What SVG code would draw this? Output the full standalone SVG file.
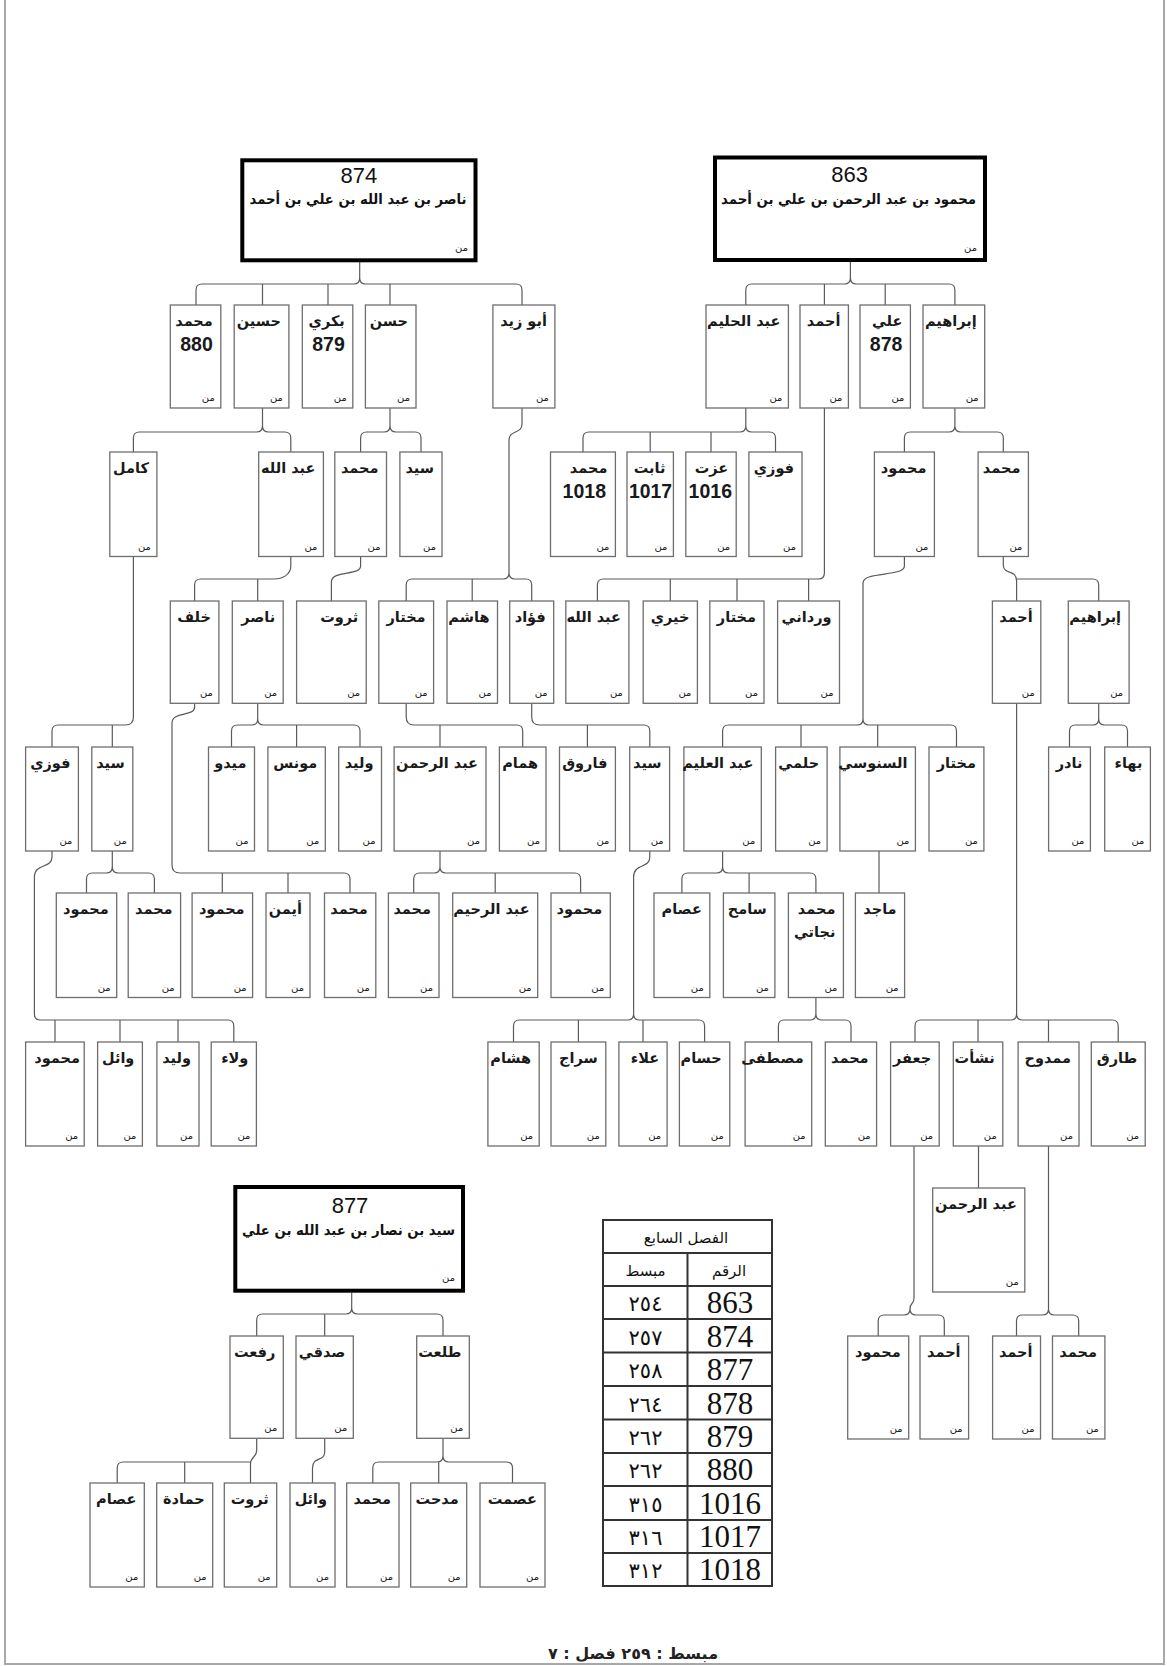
<svg xmlns="http://www.w3.org/2000/svg" width="1167" height="1666" viewBox="0 0 1167 1666">
<style>
.bx{fill:#fff;stroke:#6e6e6e;stroke-width:1.3}
.mb{fill:#fff;stroke:#000;stroke-width:4}
.nm{font-family:"DejaVu Sans",sans-serif;font-weight:bold;font-size:14.5px;text-anchor:end;fill:#1a1a1a}
.nu{font-family:"Liberation Sans",Arial,sans-serif;font-weight:bold;font-size:19.5px;text-anchor:end;fill:#1a1a1a}
.mn{font-family:"DejaVu Sans",sans-serif;font-size:10px;text-anchor:end;fill:#222}
.hn{font-family:"Liberation Sans",Arial,sans-serif;font-size:22px;text-anchor:middle;fill:#111}
.ht{font-family:"DejaVu Sans",sans-serif;font-weight:bold;font-size:14px;text-anchor:middle;fill:#111}
.cn{fill:none;stroke:#5a5a5a;stroke-width:1.2}
.tl{stroke:#333;stroke-width:2;fill:none}
.tn{font-family:"Liberation Serif","Times New Roman",serif;font-size:31px;text-anchor:middle;fill:#111}
.ta{font-family:"DejaVu Sans",sans-serif;font-size:21px;letter-spacing:3px;text-anchor:middle;fill:#111}
.th{font-family:"DejaVu Sans",sans-serif;font-size:15px;text-anchor:middle;fill:#111}
</style>
<rect x="0" y="0" width="1167" height="1666" fill="#fff"/>
<path d="M5,0 V1664 H1164 V0" fill="none" stroke="#a8a8a8" stroke-width="2"/>

<g id="connectors" class="cn">
<path d="M359.7,262 V278 Q359.7,284 353.7,284 H202 Q196,284 196,290 V305 M359.7,278 Q359.7,284 365.7,284 H516 Q522,284 522,290 V305 M262.5,284 V305 M328,284 V305 M390,284 V305"/>
<path d="M850.4,262 V278 Q850.4,284 844.4,284 H751.8 Q745.8,284 745.8,290 V305 M850.4,278 Q850.4,284 856.4,284 H948.9 Q954.9,284 954.9,290 V305 M824.4,284 V305 M885.2,284 V305"/>
<path d="M262.5,408 V426 Q262.5,432 256.5,432 H139.4 Q133.4,432 133.4,438 V452 M262.5,426 Q262.5,432 268.5,432 H284.8 Q290.8,432 290.8,438 V452"/>
<path d="M390,408 V426 Q390,432 384,432 H366.6 Q360.6,432 360.6,438 V452 M390,426 Q390,432 396,432 H415 Q421,432 421,438 V452"/>
<path d="M522,408 V424 C522,434 509,430 509,440 V573 Q509,579 503,579 H412.2 Q406.2,579 406.2,585 V601 M509,573 Q509,579 515,579 H525.7 Q531.7,579 531.7,585 V601 M472.2,579 V601"/>
<path d="M745.8,408 V426 Q745.8,432 739.8,432 H589 Q583,432 583,438 V452 M745.8,426 Q745.8,432 751.8,432 H769.5 Q775.5,432 775.5,438 V452 M650.2,432 V452 M711,432 V452"/>
<path d="M954.9,408 V426 Q954.9,432 948.9,432 H910.4 Q904.4,432 904.4,438 V452 M954.9,426 Q954.9,432 960.9,432 H997.3 Q1003.3,432 1003.3,438 V452"/>
<path d="M824.4,408 V573 Q824.4,579 818.4,579 H603.4 Q597.4,579 597.4,585 V601 M670.3,579 V601 M737,579 V601 M808.6,579 V601"/>
<path d="M290.8,556.5 V566 C290.8,575 282,579 274,579 H200.6 Q194.6,579 194.6,585 V601 M257.7,579 V601"/>
<path d="M360.6,556.5 V566 C360.6,576 331.4,570 331.4,582 V601"/>
<path d="M904.4,556.5 V566 C904.4,577 863,571 863,583 V719 Q863,725 857,725 H728.6 Q722.6,725 722.6,731 V747 M863,719 Q863,725 869,725 H950.5 Q956.5,725 956.5,731 V747 M801,725 V747 M877.7,725 V747"/>
<path d="M1003.3,556.5 V565 C1003.3,575 1016.6,569 1016.6,581 V601 M1016.6,579 H1092.7 Q1098.7,579 1098.7,585 V601"/>
<path d="M257.7,703.3 V719 Q257.7,725 251.7,725 H237.5 Q231.5,725 231.5,731 V747 M257.7,719 Q257.7,725 263.7,725 H354 Q360,725 360,731 V747 M296.6,725 V747"/>
<path d="M133.4,556.5 V717 Q133.4,725 125.4,725 H58 Q52,725 52,731 V747 M112.3,725 V747"/>
<path d="M194.6,703.3 V707 C194.6,717 172,711 172,723 V865 Q172,873 180,873 H344 Q350,873 350,879 V893 M222.3,873 V893 M288,873 V893"/>
<path d="M406.2,703.3 V717 Q406.2,725 414.2,725 H516.7 Q522.7,725 522.7,731 V747 M440,725 V747"/>
<path d="M531.7,703.3 V717 Q531.7,725 539.7,725 H643.8 Q649.8,725 649.8,731 V747 M587.4,725 V747"/>
<path d="M1098.7,703.3 V719 Q1098.7,725 1092.7,725 H1075.5 Q1069.5,725 1069.5,731 V747 M1098.7,719 Q1098.7,725 1104.7,725 H1121.5 Q1127.5,725 1127.5,731 V747"/>
<path d="M1016.6,703.3 V1014 Q1016.6,1020 1010.6,1020 H921 Q915,1020 915,1026 V1042 M1016.6,1014 Q1016.6,1020 1022.6,1020 H1112.2 Q1118.2,1020 1118.2,1026 V1042 M978,1020 V1042 M1048.5,1020 V1042"/>
<path d="M112.3,851 V867 Q112.3,873 106.3,873 H92.5 Q86.5,873 86.5,879 V893 M112.3,867 Q112.3,873 118.3,873 H148.4 Q154.4,873 154.4,879 V893"/>
<path d="M52,851 V857 C52,869 34.4,863 34.4,877 V1014 Q34.4,1020 40.4,1020 H227.8 Q233.8,1020 233.8,1026 V1042 M55,1020 V1042 M120,1020 V1042 M178,1020 V1042"/>
<path d="M440,851 V867 Q440,873 434,873 H419.7 Q413.7,873 413.7,879 V893 M440,867 Q440,873 446,873 H574.6 Q580.6,873 580.6,879 V893 M495.2,873 V893"/>
<path d="M649.8,851 V857 C649.8,869 633.6,863 633.6,877 V1014 Q633.6,1020 627.6,1020 H519.5 Q513.5,1020 513.5,1026 V1042 M633.6,1014 Q633.6,1020 639.6,1020 H698.6 Q704.6,1020 704.6,1026 V1042 M578.4,1020 V1042 M643,1020 V1042"/>
<path d="M722.6,851 V867 Q722.6,873 716.6,873 H687.9 Q681.9,873 681.9,879 V893 M722.6,867 Q722.6,873 728.6,873 H809.9 Q815.9,873 815.9,879 V893 M749.1,873 V893"/>
<path d="M879,851 V893"/>
<path d="M815.9,997.5 V1014 Q815.9,1020 809.9,1020 H784.4 Q778.4,1020 778.4,1026 V1042 M815.9,1014 Q815.9,1020 821.9,1020 H845 Q851,1020 851,1026 V1042"/>
<path d="M978.5,1146 V1188"/>
<path d="M914,1146 V1298 C914,1305 910,1302 910,1309 Q910,1315 904,1315 H884.2 Q878.2,1315 878.2,1321 V1336 M910,1309 Q910,1315 916,1315 H938.3 Q944.3,1315 944.3,1321 V1336"/>
<path d="M1048.5,1146 V1309 Q1048.5,1315 1042.5,1315 H1022.5 Q1016.5,1315 1016.5,1321 V1336 M1048.5,1309 Q1048.5,1315 1054.5,1315 H1072.7 Q1078.7,1315 1078.7,1321 V1336"/>
<path d="M351.7,1292.7 V1308 Q351.7,1314 345.7,1314 H262.7 Q256.7,1314 256.7,1320 V1336 M351.7,1308 Q351.7,1314 357.7,1314 H437 Q443,1314 443,1320 V1336 M324.7,1314 V1336"/>
<path d="M256.7,1438.3 V1450 C256.7,1458 250.5,1456 250.5,1464 V1483 M250.5,1462 H123.2 Q117.2,1462 117.2,1468 V1483 M184.7,1462 V1483"/>
<path d="M324.7,1438.3 V1452 C324.7,1462 312.5,1456 312.5,1468 V1483"/>
<path d="M443,1438.3 V1456 Q443,1462 437,1462 H378.8 Q372.8,1462 372.8,1468 V1483 M443,1456 Q443,1462 449,1462 H506.5 Q512.5,1462 512.5,1468 V1483 M438.7,1462 V1483"/>
</g>

<g id="n874"><rect class="mb" x="242.3" y="160.3" width="233.2" height="100"/><text class="hn" x="358.9" y="182.7">874</text><text class="ht" x="358" y="204" textLength="217" lengthAdjust="spacingAndGlyphs">ناصر بن عبد الله بن علي بن أحمد</text><text class="mn" x="468" y="251">من</text></g>
<g id="n863"><rect class="mb" x="715" y="157.5" width="270" height="102.5"/><text class="hn" x="849.6" y="182">863</text><text class="ht" x="848.5" y="204" textLength="255" lengthAdjust="spacingAndGlyphs">محمود بن عبد الرحمن بن علي بن أحمد</text><text class="mn" x="977" y="251">من</text></g>
<g id="n877"><rect class="mb" x="235.3" y="1187" width="227.7" height="103.7"/><text class="hn" x="350" y="1212.7">877</text><text class="ht" x="348.5" y="1235" textLength="213" lengthAdjust="spacingAndGlyphs">سيد بن نصار بن عبد الله بن علي</text><text class="mn" x="455" y="1281">من</text></g>

<g id="b_m880"><rect class="bx" x="170.3" y="305" width="50.5" height="103"/><text class="nm" x="212.8" y="326">محمد</text><text class="nu" x="212.8" y="351">880</text><text class="mn" x="214.8" y="401">من</text></g>
<g id="b_husain"><rect class="bx" x="234.2" y="305" width="54.7" height="103"/><text class="nm" x="280.9" y="326">حسين</text><text class="mn" x="282.9" y="401">من</text></g>
<g id="b_bakri"><rect class="bx" x="302.3" y="305" width="50.5" height="103"/><text class="nm" x="344.8" y="326">بكري</text><text class="nu" x="344.8" y="351">879</text><text class="mn" x="346.8" y="401">من</text></g>
<g id="b_hasan"><rect class="bx" x="365.4" y="305" width="50.6" height="103"/><text class="nm" x="408" y="326">حسن</text><text class="mn" x="410" y="401">من</text></g>
<g id="b_abuzaid"><rect class="bx" x="492.9" y="305" width="62" height="103"/><text class="nm" x="546.9" y="326">أبو زيد</text><text class="mn" x="548.9" y="401">من</text></g>
<g id="a_abdhalim"><rect class="bx" x="706" y="305" width="82.4" height="103"/><text class="nm" x="780.4" y="326">عبد الحليم</text><text class="mn" x="782.4" y="401">من</text></g>
<g id="a_ahmad"><rect class="bx" x="800" y="305" width="48.4" height="103"/><text class="nm" x="840.4" y="326">أحمد</text><text class="mn" x="842.4" y="401">من</text></g>
<g id="a_ali"><rect class="bx" x="860" y="305" width="50.4" height="103"/><text class="nm" x="902.4" y="326">علي</text><text class="nu" x="902.4" y="351">878</text><text class="mn" x="904.4" y="401">من</text></g>
<g id="a_ibrahim"><rect class="bx" x="923" y="305" width="61.7" height="103"/><text class="nm" x="976.7" y="326">إبراهيم</text><text class="mn" x="978.7" y="401">من</text></g>

<g id="b_kamil"><rect class="bx" x="109.8" y="452" width="47.1" height="104.5"/><text class="nm" x="148.9" y="473">كامل</text><text class="mn" x="150.9" y="549.5">من</text></g>
<g id="b_abdallah"><rect class="bx" x="258.7" y="452" width="64.7" height="104.5"/><text class="nm" x="315.4" y="473">عبد الله</text><text class="mn" x="317.4" y="549.5">من</text></g>
<g id="b_muh3"><rect class="bx" x="334.8" y="452" width="51.7" height="104.5"/><text class="nm" x="378.5" y="473">محمد</text><text class="mn" x="380.5" y="549.5">من</text></g>
<g id="b_sayyid3"><rect class="bx" x="399.9" y="452" width="42.1" height="104.5"/><text class="nm" x="434" y="473">سيد</text><text class="mn" x="436" y="549.5">من</text></g>
<g id="a_m1018"><rect class="bx" x="550.5" y="452" width="64.9" height="104.5"/><text class="nm" x="607.4" y="473">محمد</text><text class="nu" x="606" y="498">1018</text><text class="mn" x="609.4" y="549.5">من</text></g>
<g id="a_thabit"><rect class="bx" x="627" y="452" width="46.4" height="104.5"/><text class="nm" x="665.4" y="473">ثابت</text><text class="nu" x="672" y="498" textLength="43" lengthAdjust="spacingAndGlyphs">1017</text><text class="mn" x="667.4" y="549.5">من</text></g>
<g id="a_izzat"><rect class="bx" x="685.8" y="452" width="50.4" height="104.5"/><text class="nm" x="728.2" y="473">عزت</text><text class="nu" x="732" y="498">1016</text><text class="mn" x="730.2" y="549.5">من</text></g>
<g id="a_fawzi"><rect class="bx" x="748.9" y="452" width="53.1" height="104.5"/><text class="nm" x="794" y="473">فوزي</text><text class="mn" x="796" y="549.5">من</text></g>
<g id="a_mahmud3"><rect class="bx" x="874.4" y="452" width="60" height="104.5"/><text class="nm" x="926.4" y="473">محمود</text><text class="mn" x="928.4" y="549.5">من</text></g>
<g id="a_muh3"><rect class="bx" x="978.1" y="452" width="50.3" height="104.5"/><text class="nm" x="1020.4" y="473">محمد</text><text class="mn" x="1022.4" y="549.5">من</text></g>

<g id="b_khalaf"><rect class="bx" x="170.3" y="601" width="48.6" height="102.3"/><text class="nm" x="210.9" y="622">خلف</text><text class="mn" x="212.9" y="696.3">من</text></g>
<g id="b_nasir"><rect class="bx" x="232.3" y="601" width="50.9" height="102.3"/><text class="nm" x="275.2" y="622">ناصر</text><text class="mn" x="277.2" y="696.3">من</text></g>
<g id="b_tharwat"><rect class="bx" x="296.6" y="601" width="69.6" height="102.3"/><text class="nm" x="358.2" y="622">ثروت</text><text class="mn" x="360.2" y="696.3">من</text></g>
<g id="b_mukhtar"><rect class="bx" x="378.8" y="601" width="54.8" height="102.3"/><text class="nm" x="425.6" y="622">مختار</text><text class="mn" x="427.6" y="696.3">من</text></g>
<g id="b_hashim"><rect class="bx" x="447" y="601" width="50.5" height="102.3"/><text class="nm" x="489.5" y="622">هاشم</text><text class="mn" x="491.5" y="696.3">من</text></g>
<g id="b_fuad"><rect class="bx" x="509.7" y="601" width="44" height="102.3"/><text class="nm" x="545.7" y="622">فؤاد</text><text class="mn" x="547.7" y="696.3">من</text></g>
<g id="a_abdallah4"><rect class="bx" x="565.8" y="601" width="63.1" height="102.3"/><text class="nm" x="620.9" y="622">عبد الله</text><text class="mn" x="622.9" y="696.3">من</text></g>
<g id="a_khairi"><rect class="bx" x="643.2" y="601" width="54.2" height="102.3"/><text class="nm" x="689.4" y="622">خيري</text><text class="mn" x="691.4" y="696.3">من</text></g>
<g id="a_mukhtar4"><rect class="bx" x="709.8" y="601" width="54.2" height="102.3"/><text class="nm" x="756" y="622">مختار</text><text class="mn" x="758" y="696.3">من</text></g>
<g id="a_wardani"><rect class="bx" x="777.6" y="601" width="61.9" height="102.3"/><text class="nm" x="831.5" y="622">ورداني</text><text class="mn" x="833.5" y="696.3">من</text></g>
<g id="a_ahmad4"><rect class="bx" x="992.4" y="601" width="48.4" height="102.3"/><text class="nm" x="1032.8" y="622">أحمد</text><text class="mn" x="1034.8" y="696.3">من</text></g>
<g id="a_ibrahim4"><rect class="bx" x="1068.3" y="601" width="60.8" height="102.3"/><text class="nm" x="1121.1" y="622">إبراهيم</text><text class="mn" x="1123.1" y="696.3">من</text></g>

<g id="b_fawzi5"><rect class="bx" x="25.6" y="747" width="52.8" height="104"/><text class="nm" x="70.4" y="768">فوزي</text><text class="mn" x="72.4" y="844">من</text></g>
<g id="b_sayyid5"><rect class="bx" x="91.8" y="747" width="41" height="104"/><text class="nm" x="124.8" y="768">سيد</text><text class="mn" x="126.8" y="844">من</text></g>
<g id="b_midu"><rect class="bx" x="208.5" y="747" width="46" height="104"/><text class="nm" x="246.5" y="768">ميدو</text><text class="mn" x="248.5" y="844">من</text></g>
<g id="b_munis"><rect class="bx" x="267.9" y="747" width="57.4" height="104"/><text class="nm" x="317.3" y="768">مونس</text><text class="mn" x="319.3" y="844">من</text></g>
<g id="b_walid5"><rect class="bx" x="338.7" y="747" width="42.8" height="104"/><text class="nm" x="373.5" y="768">وليد</text><text class="mn" x="375.5" y="844">من</text></g>
<g id="b_abdrahman5"><rect class="bx" x="394.1" y="747" width="91.9" height="104"/><text class="nm" x="478" y="768">عبد الرحمن</text><text class="mn" x="480" y="844">من</text></g>
<g id="b_hammam"><rect class="bx" x="499.4" y="747" width="46.6" height="104"/><text class="nm" x="538" y="768">همام</text><text class="mn" x="540" y="844">من</text></g>
<g id="b_faruq"><rect class="bx" x="559.5" y="747" width="55.9" height="104"/><text class="nm" x="607.4" y="768">فاروق</text><text class="mn" x="609.4" y="844">من</text></g>
<g id="b_sayyid5b"><rect class="bx" x="629.7" y="747" width="39.9" height="104"/><text class="nm" x="661.6" y="768">سيد</text><text class="mn" x="663.6" y="844">من</text></g>
<g id="a_abdalim"><rect class="bx" x="683.9" y="747" width="77.4" height="104"/><text class="nm" x="753.3" y="768">عبد العليم</text><text class="mn" x="755.3" y="844">من</text></g>
<g id="a_hilmi"><rect class="bx" x="775.6" y="747" width="51.5" height="104"/><text class="nm" x="819.1" y="768">حلمي</text><text class="mn" x="821.1" y="844">من</text></g>
<g id="a_sanusi"><rect class="bx" x="839.9" y="747" width="75.5" height="104"/><text class="nm" x="907.4" y="768">السنوسي</text><text class="mn" x="909.4" y="844">من</text></g>
<g id="a_mukhtar5"><rect class="bx" x="929" y="747" width="54.9" height="104"/><text class="nm" x="975.9" y="768">مختار</text><text class="mn" x="977.9" y="844">من</text></g>
<g id="a_nadir"><rect class="bx" x="1048.6" y="747" width="41.8" height="104"/><text class="nm" x="1082.4" y="768">نادر</text><text class="mn" x="1084.4" y="844">من</text></g>
<g id="a_bahaa"><rect class="bx" x="1104.7" y="747" width="45.7" height="104"/><text class="nm" x="1142.4" y="768">بهاء</text><text class="mn" x="1144.4" y="844">من</text></g>

<g id="b_mahmud6a"><rect class="bx" x="56.3" y="893" width="60.4" height="104.5"/><text class="nm" x="108.7" y="914">محمود</text><text class="mn" x="110.7" y="990.5">من</text></g>
<g id="b_muh6a"><rect class="bx" x="128.2" y="893" width="52.4" height="104.5"/><text class="nm" x="172.6" y="914">محمد</text><text class="mn" x="174.6" y="990.5">من</text></g>
<g id="b_mahmud6b"><rect class="bx" x="192.1" y="893" width="60.5" height="104.5"/><text class="nm" x="244.6" y="914">محمود</text><text class="mn" x="246.6" y="990.5">من</text></g>
<g id="b_ayman"><rect class="bx" x="266" y="893" width="44" height="104.5"/><text class="nm" x="302" y="914">أيمن</text><text class="mn" x="304" y="990.5">من</text></g>
<g id="b_muh6b"><rect class="bx" x="324.5" y="893" width="51.3" height="104.5"/><text class="nm" x="367.8" y="914">محمد</text><text class="mn" x="369.8" y="990.5">من</text></g>
<g id="b_muh6c"><rect class="bx" x="388.4" y="893" width="50.6" height="104.5"/><text class="nm" x="431" y="914">محمد</text><text class="mn" x="433" y="990.5">من</text></g>
<g id="b_abdrahim"><rect class="bx" x="452.7" y="893" width="85" height="104.5"/><text class="nm" x="529.7" y="914">عبد الرحيم</text><text class="mn" x="531.7" y="990.5">من</text></g>
<g id="b_mahmud6c"><rect class="bx" x="551" y="893" width="59.3" height="104.5"/><text class="nm" x="602.3" y="914">محمود</text><text class="mn" x="604.3" y="990.5">من</text></g>
<g id="a_isam6"><rect class="bx" x="654" y="893" width="55.8" height="104.5"/><text class="nm" x="701.8" y="914">عصام</text><text class="mn" x="703.8" y="990.5">من</text></g>
<g id="a_samih"><rect class="bx" x="723.4" y="893" width="51.5" height="104.5"/><text class="nm" x="766.9" y="914">سامح</text><text class="mn" x="768.9" y="990.5">من</text></g>
<g id="a_najati"><rect class="bx" x="788.4" y="893" width="55" height="104.5"/><text class="nm" x="835.4" y="914">محمد</text><text class="nm" x="835.4" y="937">نجاتي</text><text class="mn" x="837.4" y="990.5">من</text></g>
<g id="a_majid"><rect class="bx" x="855.4" y="893" width="49.2" height="104.5"/><text class="nm" x="896.6" y="914">ماجد</text><text class="mn" x="898.6" y="990.5">من</text></g>

<g id="b_mahmud7"><rect class="bx" x="25.6" y="1042" width="58.6" height="104"/><text class="nm" x="80" y="1063">محمود</text><text class="mn" x="78.2" y="1139">من</text></g>
<g id="b_wail7"><rect class="bx" x="97.6" y="1042" width="44.8" height="104"/><text class="nm" x="134.4" y="1063">وائل</text><text class="mn" x="136.4" y="1139">من</text></g>
<g id="b_walid7"><rect class="bx" x="156.9" y="1042" width="42.1" height="104"/><text class="nm" x="191" y="1063">وليد</text><text class="mn" x="193" y="1139">من</text></g>
<g id="b_walaa"><rect class="bx" x="211.2" y="1042" width="45.2" height="104"/><text class="nm" x="248.4" y="1063">ولاء</text><text class="mn" x="250.4" y="1139">من</text></g>
<g id="b_hisham"><rect class="bx" x="487.9" y="1042" width="51.3" height="104"/><text class="nm" x="531.2" y="1063">هشام</text><text class="mn" x="533.2" y="1139">من</text></g>
<g id="b_siraj"><rect class="bx" x="551" y="1042" width="54.8" height="104"/><text class="nm" x="597.8" y="1063">سراج</text><text class="mn" x="599.8" y="1139">من</text></g>
<g id="b_alaa"><rect class="bx" x="618.9" y="1042" width="48.2" height="104"/><text class="nm" x="659.1" y="1063">علاء</text><text class="mn" x="661.1" y="1139">من</text></g>
<g id="b_husam"><rect class="bx" x="679.4" y="1042" width="50.4" height="104"/><text class="nm" x="721.8" y="1063">حسام</text><text class="mn" x="723.8" y="1139">من</text></g>
<g id="a_mustafa"><rect class="bx" x="745.1" y="1042" width="66.6" height="104"/><text class="nm" x="803.7" y="1063">مصطفى</text><text class="mn" x="805.7" y="1139">من</text></g>
<g id="a_muh7"><rect class="bx" x="825.3" y="1042" width="51.3" height="104"/><text class="nm" x="868.6" y="1063">محمد</text><text class="mn" x="870.6" y="1139">من</text></g>
<g id="a_jafar"><rect class="bx" x="890.6" y="1042" width="48.6" height="104"/><text class="nm" x="931.2" y="1063">جعفر</text><text class="mn" x="933.2" y="1139">من</text></g>
<g id="a_nashat"><rect class="bx" x="953.3" y="1042" width="49.5" height="104"/><text class="nm" x="994.8" y="1063">نشأت</text><text class="mn" x="996.8" y="1139">من</text></g>
<g id="a_mamduh"><rect class="bx" x="1018.1" y="1042" width="60.9" height="104"/><text class="nm" x="1071" y="1063">ممدوح</text><text class="mn" x="1073" y="1139">من</text></g>
<g id="a_tariq"><rect class="bx" x="1091.3" y="1042" width="53.9" height="104"/><text class="nm" x="1137.2" y="1063">طارق</text><text class="mn" x="1139.2" y="1139">من</text></g>

<g id="a_abdrahman8"><rect class="bx" x="932.7" y="1188" width="92.1" height="104"/><text class="nm" x="1016.8" y="1209">عبد الرحمن</text><text class="mn" x="1018.8" y="1285">من</text></g>

<g id="a_mahmud9"><rect class="bx" x="847.7" y="1336" width="61" height="103"/><text class="nm" x="900.7" y="1357">محمود</text><text class="mn" x="902.7" y="1432">من</text></g>
<g id="a_ahmad9a"><rect class="bx" x="920" y="1336" width="48.6" height="103"/><text class="nm" x="960.6" y="1357">أحمد</text><text class="mn" x="962.6" y="1432">من</text></g>
<g id="a_ahmad9b"><rect class="bx" x="992.6" y="1336" width="47.9" height="103"/><text class="nm" x="1032.5" y="1357">أحمد</text><text class="mn" x="1034.5" y="1432">من</text></g>
<g id="a_muh9"><rect class="bx" x="1052.5" y="1336" width="52.4" height="103"/><text class="nm" x="1096.9" y="1357">محمد</text><text class="mn" x="1098.9" y="1432">من</text></g>

<g id="c_rifat"><rect class="bx" x="230" y="1336" width="53.3" height="102.3"/><text class="nm" x="275.3" y="1357">رفعت</text><text class="mn" x="277.3" y="1431">من</text></g>
<g id="c_sidqi"><rect class="bx" x="296" y="1336" width="57.3" height="102.3"/><text class="nm" x="345.3" y="1357">صدقي</text><text class="mn" x="347.3" y="1431">من</text></g>
<g id="c_talat"><rect class="bx" x="416.7" y="1336" width="52.6" height="102.3"/><text class="nm" x="461.3" y="1357">طلعت</text><text class="mn" x="463.3" y="1431">من</text></g>

<g id="c_isam"><rect class="bx" x="90" y="1483" width="54.3" height="104"/><text class="nm" x="136.3" y="1504">عصام</text><text class="mn" x="138.3" y="1580">من</text></g>
<g id="c_hamada"><rect class="bx" x="156.7" y="1483" width="56" height="104"/><text class="nm" x="204.7" y="1504">حمادة</text><text class="mn" x="206.7" y="1580">من</text></g>
<g id="c_tharwat"><rect class="bx" x="224.3" y="1483" width="52.4" height="104"/><text class="nm" x="268.7" y="1504">ثروت</text><text class="mn" x="270.7" y="1580">من</text></g>
<g id="c_wail"><rect class="bx" x="290" y="1483" width="45" height="104"/><text class="nm" x="327" y="1504">وائل</text><text class="mn" x="329" y="1580">من</text></g>
<g id="c_muh"><rect class="bx" x="346.7" y="1483" width="52.3" height="104"/><text class="nm" x="391" y="1504">محمد</text><text class="mn" x="393" y="1580">من</text></g>
<g id="c_medhat"><rect class="bx" x="410.7" y="1483" width="56" height="104"/><text class="nm" x="458.7" y="1504">مدحت</text><text class="mn" x="460.7" y="1580">من</text></g>
<g id="c_ismat"><rect class="bx" x="480" y="1483" width="65" height="104"/><text class="nm" x="537" y="1504">عصمت</text><text class="mn" x="539" y="1580">من</text></g>

<g id="table">
<rect x="603" y="1220" width="169" height="366" fill="#fff" class="tl"/>
<path class="tl" d="M603,1253 H772 M603,1286 H772 M603,1319 H772 M603,1352.5 H772 M603,1386 H772 M603,1419.5 H772 M603,1453 H772 M603,1486 H772 M603,1520 H772 M603,1553 H772 M687.5,1253 V1586"/>
<text class="th" x="686" y="1243">الفصل السابع</text>
<text class="th" x="645.5" y="1276">مبسط</text>
<text class="th" x="729" y="1276">الرقم</text>
<text class="tn" x="730" y="1313">863</text><text class="ta" x="645.5" y="1311">٢٥٤</text>
<text class="tn" x="730" y="1346.5">874</text><text class="ta" x="645.5" y="1344.5">٢٥٧</text>
<text class="tn" x="730" y="1380">877</text><text class="ta" x="645.5" y="1378">٢٥٨</text>
<text class="tn" x="730" y="1413.5">878</text><text class="ta" x="645.5" y="1411.5">٢٦٤</text>
<text class="tn" x="730" y="1447">879</text><text class="ta" x="645.5" y="1445">٢٦٢</text>
<text class="tn" x="730" y="1480">880</text><text class="ta" x="645.5" y="1478">٢٦٢</text>
<text class="tn" x="730" y="1514">1016</text><text class="ta" x="645.5" y="1512">٣١٥</text>
<text class="tn" x="730" y="1547">1017</text><text class="ta" x="645.5" y="1545">٣١٦</text>
<text class="tn" x="730" y="1580">1018</text><text class="ta" x="645.5" y="1578">٣١٢</text>
</g>

<text x="633" y="1659" direction="rtl" font-family="DejaVu Sans, sans-serif" font-weight="bold" font-size="16" text-anchor="middle" fill="#222">مبسط : ٢٥٩ فصل : ٧</text>
</svg>
